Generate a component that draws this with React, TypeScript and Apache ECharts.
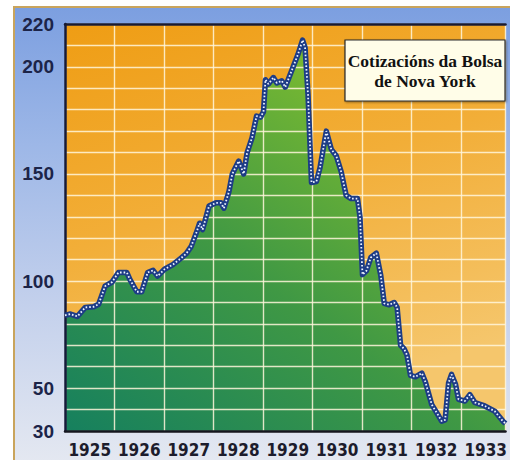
import React, { useEffect, useRef } from "react";
import * as echarts from "echarts";

// Decimal year of each point of the traced curve
const years = [
  1925.0, 1925.11, 1925.25, 1925.41, 1925.58, 1925.68, 1925.81, 1925.95,
  1926.08, 1926.25, 1926.31, 1926.45, 1926.55, 1926.67, 1926.78, 1926.87,
  1927.01, 1927.18, 1927.35, 1927.45, 1927.55, 1927.65, 1927.72, 1927.78,
  1927.91, 1928.05, 1928.15, 1928.21, 1928.31, 1928.38, 1928.51, 1928.61,
  1928.68, 1928.78, 1928.87, 1928.95, 1929.01, 1929.05, 1929.11, 1929.21,
  1929.28, 1929.38, 1929.45, 1929.61, 1929.71, 1929.8, 1929.85, 1929.91,
  1929.98, 1930.08, 1930.15, 1930.28, 1930.38, 1930.48, 1930.58, 1930.68,
  1930.78, 1930.91, 1930.96, 1931.01, 1931.09, 1931.18, 1931.29, 1931.38,
  1931.45, 1931.55, 1931.65, 1931.71, 1931.78, 1931.85, 1931.91, 1931.98,
  1932.08, 1932.21, 1932.28, 1932.41, 1932.55, 1932.61, 1932.68, 1932.75,
  1932.81, 1932.89, 1932.95, 1933.08, 1933.18, 1933.28, 1933.48, 1933.68,
  1933.85, 1933.9,
];

// Stock index value at each point
const values = [
  84, 84.6, 83.5, 87.7, 88, 89.2, 97.6, 99.5,
  104, 104, 100.8, 95, 95, 104, 105, 102.3,
  105.5, 107.7, 110.8, 112.8, 116.2, 122.3, 127, 124,
  135, 136.5, 136.5, 134, 141.5, 150, 156, 150,
  160, 167, 177, 176.5, 179, 194, 192, 195,
  192.5, 193.5, 190.5, 200, 206, 212.5, 209, 187,
  146, 146.5, 152.7, 170, 161.5, 158.5, 151, 140,
  138.5, 138.5, 129.8, 103, 104.8, 111, 113, 102.6,
  89.6, 88.9, 90, 87.7, 70, 68.4, 65.4, 56,
  55.3, 57, 53, 42.3, 37, 34.6, 35.2, 52.5,
  56.4, 51.8, 44.8, 44, 47, 43.3, 41.7, 39.3,
  34.5, 33.5,
];

const yLabelValues = [30, 50, 100, 150, 200, 220];
const yearLabels = [1925, 1926, 1927, 1928, 1929, 1930, 1931, 1932, 1933];
const titleLines = ["Cotizacións da Bolsa", "de Nova York"];

export default function App() {
  const ref = useRef<HTMLDivElement>(null);

  useEffect(() => {
    if (!ref.current) return;
    const chart = echarts.init(ref.current, null, { renderer: "svg" });
    const data = years.map((y, i) => [y, values[i]]);
    const xMin = 1925;
    const xMax = 1933.9;

    chart.setOption({
      animation: false,
      grid: {
        left: 65,
        right: 0,
        top: 24,
        bottom: 29,
        show: true,
        borderWidth: 0,
        backgroundColor: new echarts.graphic.LinearGradient(0, 0, 0.35, 1, [
          { offset: 0, color: "#ef9d14" },
          { offset: 0.5, color: "#f2ae38" },
          { offset: 1, color: "#f5c66c" },
        ]),
      },
      xAxis: [
        {
          type: "value",
          min: xMin,
          max: xMax,
          interval: 1,
          z: 2,
          axisLine: { show: true, lineStyle: { color: "#14161f", width: 2.5 } },
          axisTick: { show: false },
          splitLine: {
            show: true,
            lineStyle: { color: "rgba(255,246,220,0.85)", width: 1.4 },
          },
          axisLabel: {
            customValues: yearLabels.map((y) => y + 0.5),
            formatter: (v: number) => String(Math.floor(v)),
            margin: 10,
            color: "#1c1c2c",
            fontSize: 17,
            fontFamily: "'Liberation Sans Narrow', 'DejaVu Sans Condensed', 'Liberation Sans', sans-serif",
            fontWeight: "bold",
          },
        },
        {
          type: "value",
          position: "top",
          min: xMin,
          max: xMax,
          z: 2,
          axisLine: { show: true, lineStyle: { color: "#1a1a30", width: 2.5 } },
          axisTick: { show: false },
          axisLabel: { show: false },
          splitLine: { show: false },
        },
      ],
      yAxis: {
        type: "value",
        min: 30,
        max: 220,
        interval: 10,
        z: 2,
        axisLine: { show: true, lineStyle: { color: "#151a3a", width: 2.5 } },
        axisTick: { show: false },
        splitLine: {
          show: true,
          lineStyle: { color: "rgba(255,246,220,0.85)", width: 1.4 },
        },
        axisLabel: {
          customValues: yLabelValues,
          margin: 11,
          color: "#1c2448",
          fontSize: 19,
          fontWeight: "bold",
          fontFamily: "'Liberation Sans', Arial, sans-serif",
        },
      },
      series: [
        {
          type: "line",
          data,
          symbol: "none",
          z: 1,
          lineStyle: { width: 0 },
          areaStyle: {
            opacity: 1,
            color: new echarts.graphic.LinearGradient(0, 1, 0.8, 0, [
              { offset: 0, color: "#16805e" },
              { offset: 0.45, color: "#3f9844" },
              { offset: 1, color: "#8ec52a" },
            ]),
          },
        },
        {
          type: "line",
          data,
          symbol: "none",
          z: 3,
          lineStyle: { color: "#1d3c86", width: 5.5, join: "round" },
        },
        {
          type: "line",
          data,
          symbol: "none",
          z: 4,
          lineStyle: {
            color: "#eef4ff",
            width: 1.8,
            type: [1.6, 2],
            cap: "butt",
          },
        },
      ],
      graphic: [
        {
          type: "rect",
          z: 10,
          shape: { x: 345, y: 40, width: 160, height: 61 },
          style: {
            fill: "#fffde8",
            stroke: "#2a2a2a",
            lineWidth: 1.2,
            shadowBlur: 2,
            shadowOffsetX: 1,
            shadowOffsetY: 1,
            shadowColor: "rgba(0,0,0,0.4)",
          },
        },
        {
          type: "text",
          z: 11,
          x: 425,
          y: 61,
          style: {
            text: titleLines[0],
            fill: "#111",
            font: "bold 17.5px 'Liberation Serif', 'Times New Roman', serif",
            align: "center",
            verticalAlign: "middle",
          },
        },
        {
          type: "text",
          z: 11,
          x: 425,
          y: 81,
          style: {
            text: titleLines[1],
            fill: "#111",
            font: "bold 17.5px 'Liberation Serif', 'Times New Roman', serif",
            align: "center",
            verticalAlign: "middle",
          },
        },
      ],
    });

    return () => chart.dispose();
  }, []);

  return (
    <div
      style={{
        position: "absolute",
        left: 0,
        top: 0,
        width: 510,
        height: 460,
        background: "#ffffff",
        overflow: "hidden",
      }}
    >
      <div
        style={{
          position: "absolute",
          left: 13,
          top: 6,
          width: 497,
          height: 454,
          borderLeft: "2px solid #c9a45c",
          borderTop: "2px solid #c9a45c",
          background:
            "linear-gradient(to bottom, #7c9fe0 0%, #9db7e7 30%, #c3d0ec 65%, #e4e8f1 100%)",
        }}
      />
      <div
        ref={ref}
        style={{ position: "absolute", left: 0, top: 0, width: 510, height: 460 }}
      />
    </div>
  );
}
